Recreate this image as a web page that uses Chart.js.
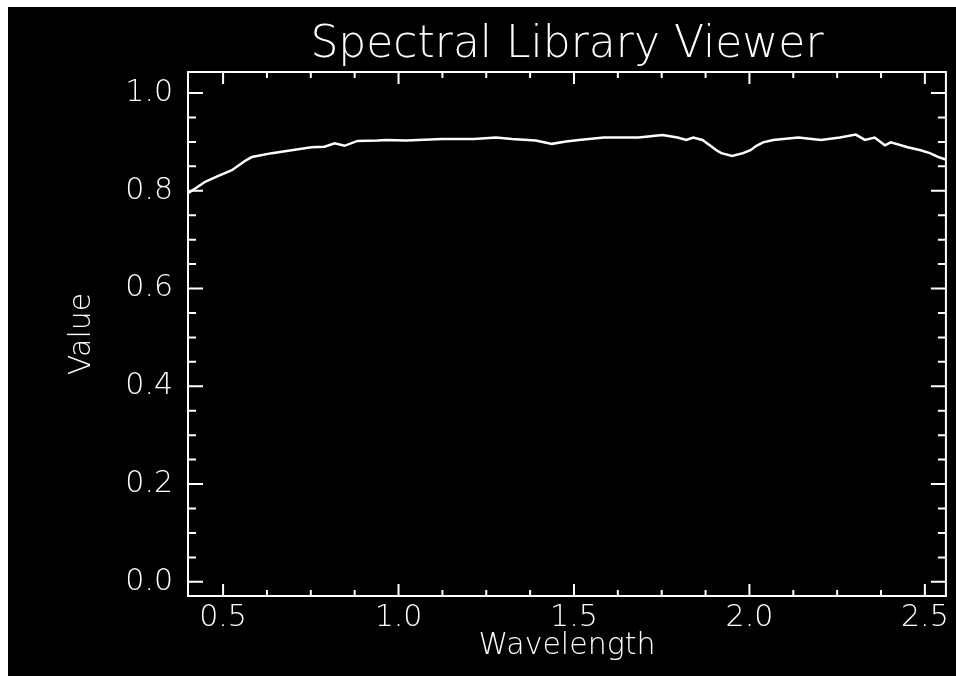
<!DOCTYPE html>
<html>
<head>
<meta charset="utf-8">
<script src="https://cdn.jsdelivr.net/npm/chart.js@4.4.1/dist/chart.umd.min.js"></script>
<style>
  html, body { margin: 0; padding: 0; background: #fff; }
  #wrap { position: absolute; left: 8px; top: 7px; width: 948px; height: 669px; background: #000; }
</style>
</head>
<body>
<div id="wrap"><canvas id="myChart"></canvas></div>
<script>
let wavelength = [0.40, 0.411, 0.448, 0.485, 0.525, 0.562, 0.582, 0.639, 0.695, 0.752, 0.789, 0.818, 0.846, 0.883, 0.940, 0.965, 1.022, 1.124, 1.215, 1.278, 1.323, 1.391, 1.437, 1.477, 1.514, 1.585, 1.684, 1.752, 1.795, 1.820, 1.840, 1.866, 1.889, 1.906, 1.920, 1.951, 1.982, 2.003, 2.020, 2.039, 2.068, 2.139, 2.204, 2.258, 2.303, 2.329, 2.357, 2.386, 2.403, 2.451, 2.488, 2.514, 2.542, 2.56]
let value = [0.795, 0.800, 0.818, 0.830, 0.842, 0.861, 0.869, 0.877, 0.883, 0.889, 0.890, 0.897, 0.892, 0.902, 0.903, 0.904, 0.903, 0.906, 0.906, 0.909, 0.906, 0.903, 0.896, 0.901, 0.904, 0.909, 0.909, 0.914, 0.909, 0.904, 0.909, 0.904, 0.892, 0.883, 0.877, 0.871, 0.877, 0.883, 0.892, 0.899, 0.904, 0.909, 0.904, 0.909, 0.915, 0.904, 0.909, 0.893, 0.899, 0.889, 0.883, 0.877, 0.868, 0.864]
let xTicks = [0.5, 1.0, 1.5, 2.0, 2.5]
let yTicks = [0.0, 0.2, 0.4, 0.6, 0.8, 1.0]
let xMinor = 0.125
let yMinor = 0.05

let font = "'DejaVu Sans', sans-serif"

// frame with inward ticks on all four sides, like the old IDL plot
let framePlugin = {
    id: "frame",
    afterDraw(chart) {
        let ctx = chart.ctx
        let a = chart.chartArea
        let xs = chart.scales.x
        let ys = chart.scales.y
        ctx.save()
        ctx.strokeStyle = "#fff"
        ctx.lineWidth = 2
        ctx.strokeRect(a.left, a.top, a.right - a.left, a.bottom - a.top)
        ctx.beginPath()
        for (let v = 0.375; v <= 2.5601; v += xMinor) {
            if (v < xs.min) continue
            let major = xTicks.some(t => Math.abs(t - v) < 1e-6)
            let len = major ? 12 : 6
            let px = xs.getPixelForValue(v)
            ctx.moveTo(px, a.bottom); ctx.lineTo(px, a.bottom - len)
            ctx.moveTo(px, a.top); ctx.lineTo(px, a.top + len)
        }
        for (let v = 0; v <= 1.0001; v += yMinor) {
            let major = yTicks.some(t => Math.abs(t - v) < 1e-6)
            let len = major ? 15 : 8
            let py = ys.getPixelForValue(v)
            ctx.moveTo(a.left, py); ctx.lineTo(a.left + len, py)
            ctx.moveTo(a.right, py); ctx.lineTo(a.right - len, py)
        }
        ctx.stroke()
        ctx.restore()
    }
}

let ctx1 = document.getElementById("myChart").getContext("2d")

let config = {
    type: "line",
    data: {
        datasets: [{
            data: wavelength.map((w, i) => ({ x: w, y: value[i] })),
            borderColor: "#fff",
            borderWidth: 2.5,
            pointRadius: 0,
            tension: 0,
        }],
    },
    options: {
        responsive: true,
        maintainAspectRatio: false,
        animation: false,
        layout: { padding: { left: 0, right: 9, top: 0, bottom: 0 } },
        plugins: {
            legend: { display: false },
            tooltip: { enabled: false },
            title: {
                display: true,
                text: "Spectral Library Viewer",
                color: "#fff",
                fullSize: false,
                font: { family: font, size: 44, weight: 200, lineHeight: 1 },
                padding: { top: 17, bottom: 4 },
            },
        },
        scales: {
            x: {
                type: "linear",
                min: 0.4,
                max: 2.56,
                afterBuildTicks: (s) => { s.ticks = xTicks.map(v => ({ value: v })) },
                afterFit: (s) => { s.height = 80 },
                grid: { display: false, drawTicks: false },
                border: { display: false },
                ticks: {
                    color: "#fff",
                    padding: 7,
                    font: { family: font, size: 30, weight: 200, lineHeight: 1 },
                    callback: (v) => v.toFixed(1),
                },
                title: {
                    display: true,
                    text: "Wavelength",
                    color: "#fff",
                    font: { family: font, size: 30, weight: 200, lineHeight: 1 },
                    padding: { top: 0, bottom: 15 },
                },
            },
            y: {
                min: -0.029,
                max: 1.043,
                afterBuildTicks: (s) => { s.ticks = yTicks.map(v => ({ value: v })) },
                afterFit: (s) => { s.width = 180 },
                grid: { display: false, drawTicks: false },
                border: { display: false },
                ticks: {
                    color: "#fff",
                    padding: 15,
                    font: { family: font, size: 30, weight: 200, lineHeight: 1 },
                    callback: (v) => v.toFixed(1),
                },
                title: {
                    display: true,
                    text: "Value",
                    color: "#fff",
                    font: { family: font, size: 30, weight: 200, lineHeight: 1 },
                    padding: { top: 59, bottom: 0 },
                },
            },
        },
    },
    plugins: [framePlugin],
}

let myChart = new Chart(ctx1, config)
</script>
</body>
</html>
